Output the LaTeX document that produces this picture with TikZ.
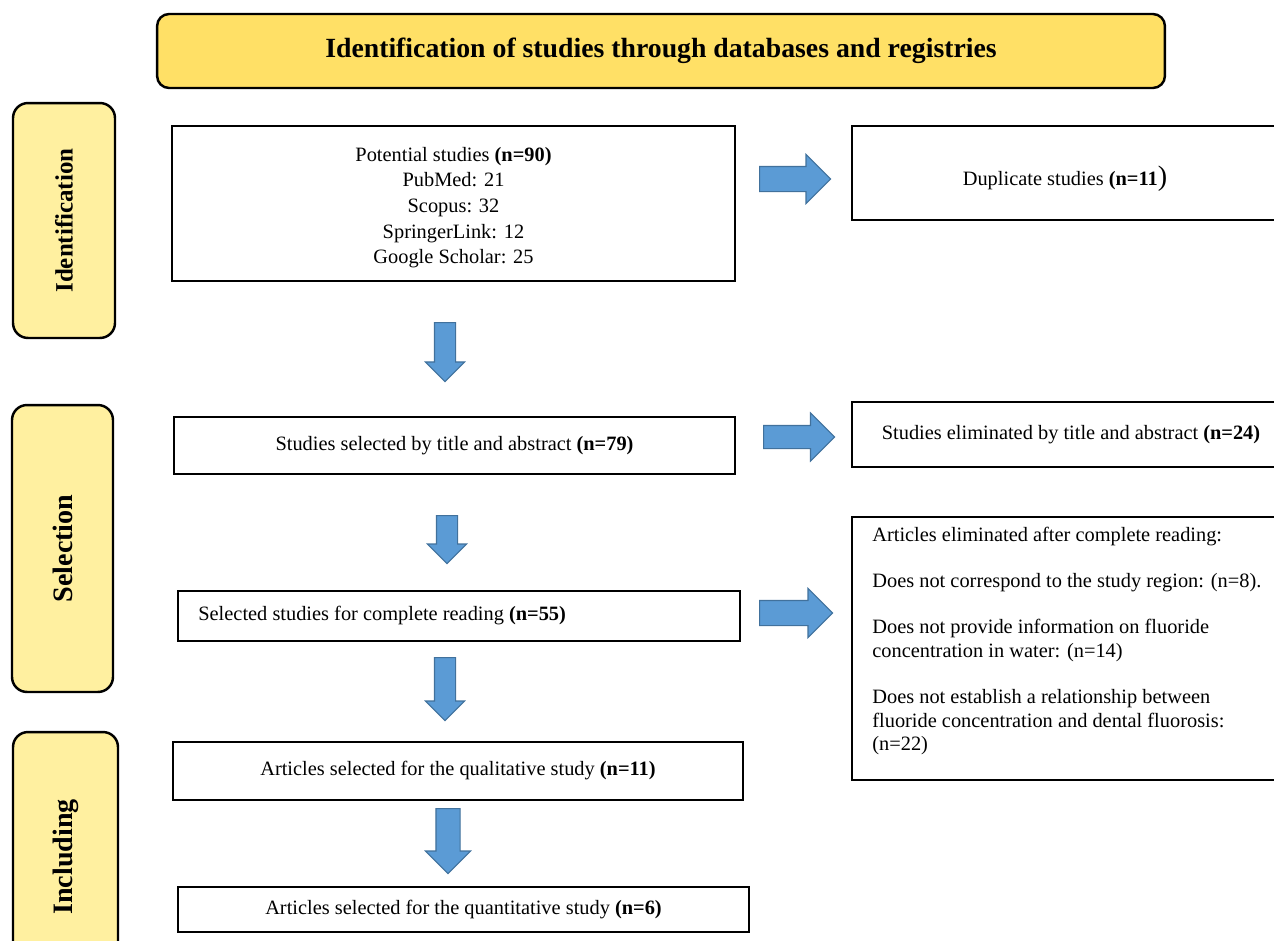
\documentclass[tikz,border=0pt]{standalone}
\usepackage{fontspec}
\setmainfont{Liberation Serif}
\usetikzlibrary{shapes.arrows,positioning,calc}
\definecolor{PRHead}{HTML}{FFE066}
\definecolor{PRSide}{HTML}{FFF0A0}
\definecolor{PRBlue}{HTML}{5B9BD5}
\definecolor{PRBlueEdge}{HTML}{41719C}
\definecolor{PRInk}{HTML}{000000}
\tikzset{
  stagebox/.style={draw=PRInk,line width=1.2pt,fill=white,inner sep=0pt,text=PRInk,
                   font=\fontsize{11.6}{14.6}\selectfont,align=center},
  headbox/.style={draw=PRInk,line width=1.4pt,fill=PRHead,rounded corners=2.4mm,
                  font=\fontsize{15.8}{19}\selectfont\bfseries},
  sidebox/.style={draw=PRInk,line width=1.4pt,fill=PRSide,rounded corners=3mm},
  sidelabel/.style={rotate=90,inner sep=0pt,font=\fontsize{16}{19}\selectfont\bfseries},
  bodytext/.style={inner sep=0pt,text=PRInk,font=\fontsize{11.6}{14.6}\selectfont,align=center},
  listtext/.style={bodytext,align=left,font=\fontsize{11.6}{13.6}\selectfont},
  arrowright/.style={single arrow,draw=PRBlueEdge,fill=PRBlue,line width=0.6pt,anchor=tail,
                     inner xsep=0pt,inner ysep=2.4mm,text height=0pt,text depth=0pt,
                     minimum height=14.2mm,single arrow head extend=2.4mm},
  arrowdown/.style={arrowright,rotate=-90,inner ysep=2mm,minimum height=11.8mm,
                    single arrow head extend=1.8mm},
}

\begin{document}
\begin{tikzpicture}[x=0.02cm,y=-0.02cm]
  \useasboundingbox (0,0) rectangle (1274,940);
  \clip (0,0) rectangle (1274,940);

  % header and stage tabs
  \node[headbox,minimum width=20.16cm,minimum height=1.48cm] (head) at (661,51)
    {Identification of studies through databases and registries};

  \node[sidebox,minimum width=2.04cm,minimum height=4.7cm] (sideid) at (64,220.5) {};
  \node[sidelabel,font=\fontsize{14.2}{17}\selectfont\bfseries] at (sideid.center) {Identification};
  \node[sidebox,minimum width=2.02cm,minimum height=5.74cm] (sidesel) at (62.5,548.5) {};
  \node[sidelabel] at (sidesel.center) {Selection};
  \node[sidebox,minimum width=2.1cm,minimum height=5.0cm] (sideinc) at (65.5,857) {};
  \node[sidelabel] at (sideinc.center) {Including};

  % main column
  \node[stagebox,minimum width=11.26cm,minimum height=3.1cm] (pot) at (453.5,203.5) {};
  \node[bodytext] (pottxt) at ($(pot.center)+(0,4)$)
    {Potential studies \textbf{(n=90)}\\PubMed: 21\\Scopus: 32\\SpringerLink: 12\\Google Scholar: 25};

  \node[stagebox,minimum width=11.22cm,minimum height=1.14cm] (title) at (454.5,445.5)
    {Studies selected by title and abstract \textbf{(n=79)}};

  \node[stagebox,minimum width=11.24cm,minimum height=1.0cm] (read) at (459,616) {};
  \node[bodytext,anchor=west] (readtxt) at ($(read.west)+(21,0)$)
    {Selected studies for complete reading \textbf{(n=55)}};

  \node[stagebox,minimum width=11.4cm,minimum height=1.16cm] (qual) at (458,771)
    {Articles selected for the qualitative study \textbf{(n=11)}};

  \node[stagebox,minimum width=11.42cm,minimum height=0.9cm] (quant) at (463.5,909.5)
    {Articles selected for the quantitative study \textbf{(n=6)}};

  % excluded column
  \node[stagebox,minimum width=8.76cm,minimum height=1.88cm] (dup) at (1071,173) {};
  \node[bodytext] (duptxt) at ($(dup.center)+(-6,6)$)
    {Duplicate studies \textbf{(n=11}{\fontsize{16}{16}\selectfont)}};

  \node[stagebox,minimum width=8.76cm,minimum height=1.3cm] (elim) at (1071,434.5)
    {Studies eliminated by title and abstract \textbf{(n=24)}};

  \node[stagebox,minimum width=8.76cm,minimum height=5.26cm] (full) at (1071,648.5) {};
  \node[listtext,anchor=north west] (fulltxt) at (872,527)
    {Articles eliminated after complete reading:\\[12.5pt]
     Does not correspond to the study region: (n=8).\\[12.5pt]
     Does not provide information on fluoride\\
     concentration in water: (n=14)\\[12.5pt]
     Does not establish a relationship between\\
     fluoride concentration and dental fluorosis:\\
     (n=22)};

  % block arrows, placed by their tails
  \node[arrowright] (ar1) at (759,179) {};
  \node[arrowright,inner ysep=2.2mm,single arrow head extend=2.5mm] (ar2) at (763,437) {};
  \node[arrowright,minimum height=14.6mm] (ar3) at (759,613) {};
  \node[arrowdown] (dn1) at (445,322) {};
  \node[arrowdown,minimum height=9.6mm] (dn2) at (447,515) {};
  \node[arrowdown,minimum height=12.6mm] (dn3) at (445,657) {};
  \node[arrowdown,inner ysep=2.3mm,minimum height=13mm,single arrow head extend=2.1mm] (dn4) at (448,808) {};
\end{tikzpicture}
\end{document}
